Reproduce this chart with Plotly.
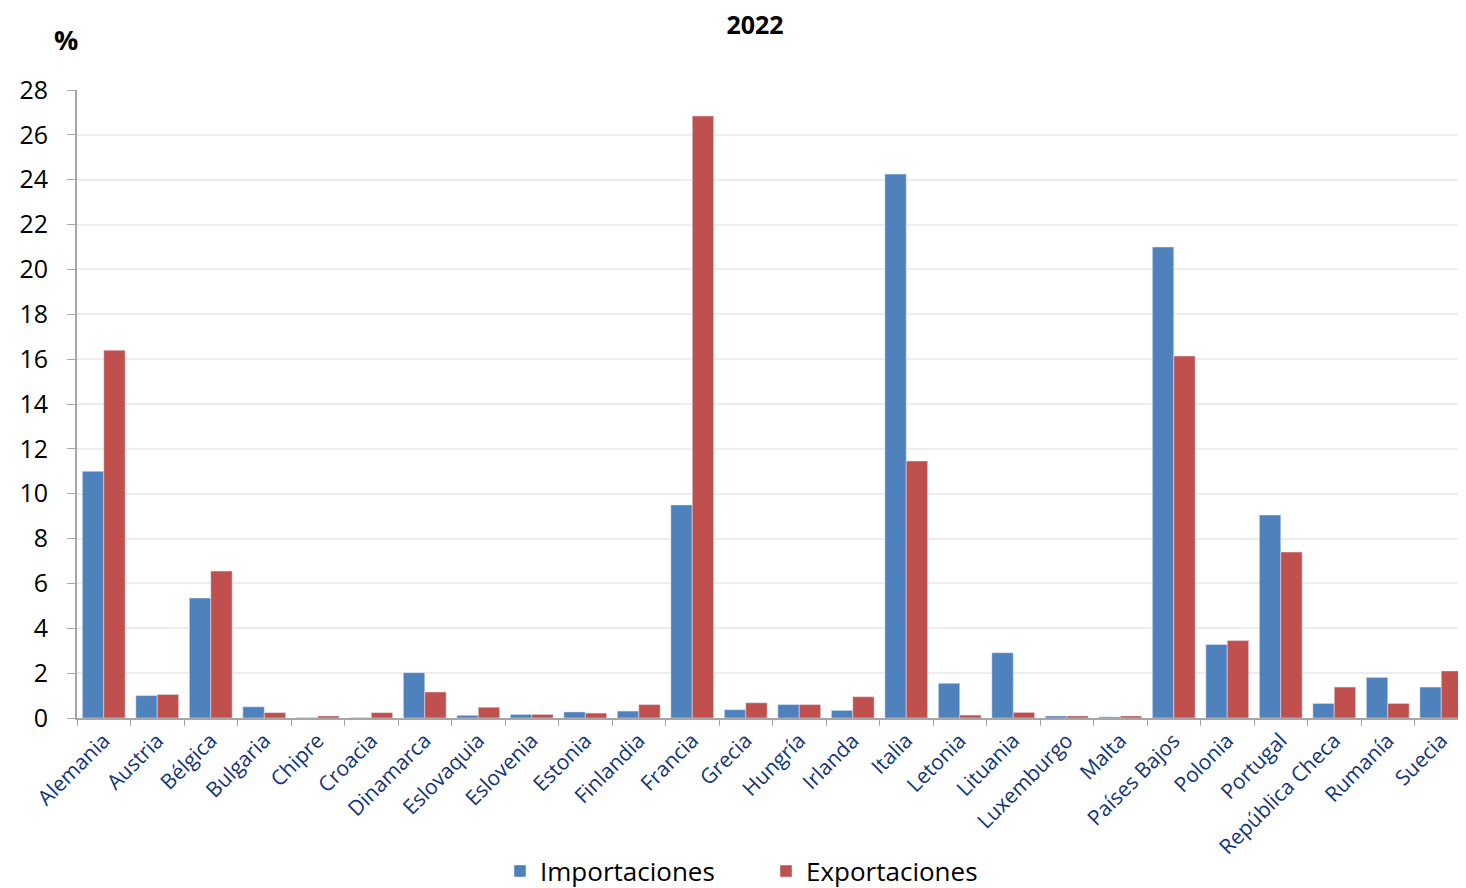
import plotly.graph_objects as go

paises = ["Alemania", "Austria", "Bélgica", "Bulgaria", "Chipre", "Croacia", "Dinamarca",
          "Eslovaquia", "Eslovenia", "Estonia", "Finlandia", "Francia", "Grecia", "Hungría",
          "Irlanda", "Italia", "Letonia", "Lituania", "Luxemburgo", "Malta", "Países Bajos",
          "Polonia", "Portugal", "República Checa", "Rumanía", "Suecia"]
importaciones = [11.0, 1.0, 5.35, 0.5, 0.02, 0.02, 2.02, 0.12, 0.16, 0.27, 0.31, 9.5, 0.37, 0.6,
                 0.34, 24.25, 1.55, 2.91, 0.09, 0.05, 21.0, 3.28, 9.05, 0.65, 1.81, 1.38]
exportaciones = [16.4, 1.05, 6.55, 0.24, 0.09, 0.24, 1.16, 0.48, 0.16, 0.22, 0.6, 26.84, 0.68, 0.6,
                 0.95, 11.46, 0.13, 0.25, 0.09, 0.09, 16.14, 3.45, 7.4, 1.38, 0.65, 2.1]
y_ticks = list(range(0, 29, 2))

fig = go.Figure()
fig.add_trace(go.Bar(x=paises, y=importaciones, name="Importaciones", marker_color="#4F81BD",
                     legend="legend", showlegend=True))
fig.add_trace(go.Bar(x=paises, y=exportaciones, name="Exportaciones", marker_color="#C0504D",
                     legend="legend2", showlegend=True))

leg_common = dict(orientation="h", xref="container", yref="container", xanchor="left",
                  yanchor="middle", y=0.028, font=dict(size=26, color="black"),
                  bgcolor="rgba(0,0,0,0)", itemwidth=30, visible=True)

fig.update_layout(
    width=1466, height=888, showlegend=True,
    paper_bgcolor="white", plot_bgcolor="white",
    font=dict(family="Open Sans", size=20, color="black"),
    margin=dict(l=69, r=6, t=82, b=178, autoexpand=False),
    barmode="group", bargap=0.2, bargroupgap=0,
    title=dict(text="<b>2022</b>", x=(755 - 8) / 1466, xanchor="center",
               xref="container", yref="container", y=1 - (25 - 8) / 888, yanchor="middle",
               font=dict(size=25, color="black")),
    legend=dict(leg_common, x=(500 - 8) / 1466),
    legend2=dict(leg_common, x=(766 - 8) / 1466),
    annotations=[dict(text="<b>%</b>", xref="paper", yref="paper", x=0.002, y=1.08,
                      xanchor="right", yanchor="middle", showarrow=False, font=dict(size=27))],
)
fig.update_yaxes(range=[0, 28], tickvals=y_ticks, showgrid=True, gridcolor="#EDEDED",
                 gridwidth=1.5, showline=True, linecolor="#A6A6A6", linewidth=2,
                 ticks="outside", ticklen=8, tickcolor="#A6A6A6", ticklabelstandoff=14,
                 tickfont=dict(size=25, color="black"), zeroline=False, automargin=False)
fig.update_xaxes(showline=True, linecolor="#A6A6A6", linewidth=2, ticks="outside",
                 tickson="boundaries", ticklen=6, tickcolor="#A6A6A6", tickangle=-45,
                 tickfont=dict(size=21, color="#12357A"), showgrid=False, automargin=False)

fig.write_html("out.html")
